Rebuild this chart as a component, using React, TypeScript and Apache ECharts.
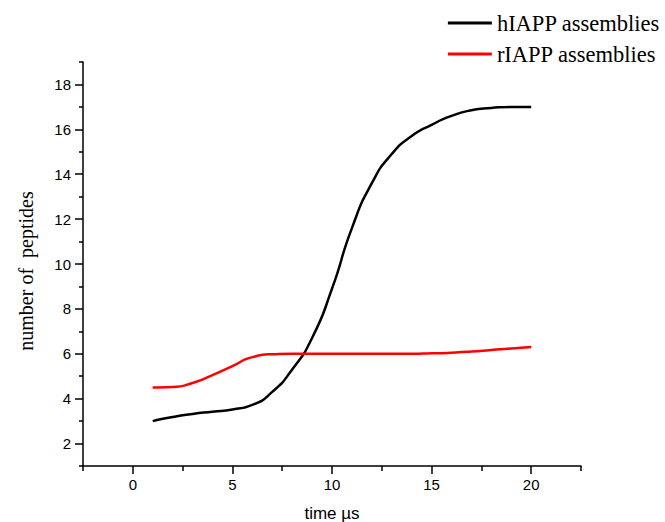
import React, { useEffect, useRef } from "react";
import * as echarts from "echarts";

const timeValues = [1, 2, 3, 4, 5, 6, 7, 8, 9, 10, 11, 12, 13, 14, 15, 16, 17, 18, 19, 20];
const hIAPP = [3.0, 3.18, 3.32, 3.42, 3.52, 3.72, 4.3, 5.3, 6.7, 8.9, 11.6, 13.6, 14.9, 15.7, 16.2, 16.6, 16.85, 16.95, 17.0, 17.0];
const rIAPP = [4.5, 4.52, 4.7, 5.05, 5.45, 5.85, 5.98, 6.0, 6.0, 6.0, 6.0, 6.0, 6.0, 6.0, 6.02, 6.05, 6.1, 6.17, 6.24, 6.3];
const xMajorTicks = [0, 5, 10, 15, 20];
const xMinorTicks = [-2.5, 2.5, 7.5, 12.5, 17.5, 22.5];
const yMajorTicks = [2, 4, 6, 8, 10, 12, 14, 16, 18];
const yMinorTicks = [1, 3, 5, 7, 9, 11, 13, 15, 17, 19];
const seriesNames = ["hIAPP assemblies", "rIAPP assemblies"];

export default function App() {
  const ref = useRef<HTMLDivElement>(null);
  useEffect(() => {
    document.body.style.margin = "0";
    if (!ref.current) return;
    const chart = echarts.init(ref.current, undefined, { renderer: "svg" });
    const axisLine = { show: true, onZero: false, lineStyle: { color: "#000", width: 1.5 } };
    chart.setOption({
      animation: false,
      backgroundColor: "#fff",
      grid: { left: 83, right: 84, top: 62, bottom: 56, outerBoundsMode: "none", containLabel: false },
      legend: {
        orient: "vertical",
        right: 5,
        top: 11,
        padding: 0,
        itemWidth: 44,
        itemHeight: 3,
        itemGap: 7,
        icon: "rect",
        textStyle: { fontFamily: "Liberation Serif", fontSize: 22.5, color: "#000", lineHeight: 24 },
        data: seriesNames,
      },
      xAxis: [
        {
          type: "value",
          min: -2.5,
          max: 22.5,
          position: "bottom",
          axisLine,
          splitLine: { show: false },
          axisTick: { show: true, inside: false, length: 8, customValues: xMajorTicks, lineStyle: { color: "#000", width: 1.5 } },
          axisLabel: { customValues: xMajorTicks, margin: 11, fontFamily: "Liberation Sans", fontSize: 15, color: "#000" },
          name: "time \u00b5s",
          nameLocation: "middle",
          nameGap: 40,
          nameTextStyle: { fontFamily: "Liberation Sans", fontSize: 17, lineHeight: 15, color: "#000" },
        },
        {
          type: "value",
          min: -2.5,
          max: 22.5,
          position: "bottom",
          offset: 0,
          axisLine: { show: false, onZero: false },
          splitLine: { show: false },
          axisTick: { show: true, length: 5, customValues: xMinorTicks, lineStyle: { color: "#000", width: 1.5 } },
          axisLabel: { show: false },
        },
      ],
      yAxis: [
        {
          type: "value",
          min: 1,
          max: 19,
          position: "left",
          axisLine,
          splitLine: { show: false },
          axisTick: { show: true, length: 8, customValues: yMajorTicks, lineStyle: { color: "#000", width: 1.5 } },
          axisLabel: { customValues: yMajorTicks, margin: 12, fontFamily: "Liberation Sans", fontSize: 15, color: "#000" },
        },
        {
          type: "value",
          min: 1,
          max: 19,
          position: "left",
          offset: 0,
          axisLine: { show: false, onZero: false },
          splitLine: { show: false },
          axisTick: { show: true, length: 4, customValues: yMinorTicks, lineStyle: { color: "#000", width: 1.5 } },
          axisLabel: { show: false },
        },
      ],
      graphic: [
        {
          type: "text",
          x: 26,
          y: 271,
          rotation: Math.PI / 2,
          style: {
            text: "number of  peptides",
            fontFamily: "Liberation Serif",
            fontSize: 20,
            fill: "#000",
            align: "center",
            verticalAlign: "middle",
          },
        },
      ],
      series: [
        {
          name: seriesNames[0],
          type: "line",
          smooth: 0.6,
          symbol: "none",
          xAxisIndex: 0,
          yAxisIndex: 0,
          data: timeValues.map((t, i) => [t, hIAPP[i]]),
          lineStyle: { color: "#000", width: 2.5 },
          itemStyle: { color: "#000" },
        },
        {
          name: seriesNames[1],
          type: "line",
          smooth: 0.6,
          symbol: "none",
          xAxisIndex: 0,
          yAxisIndex: 0,
          data: timeValues.map((t, i) => [t, rIAPP[i]]),
          lineStyle: { color: "#ff0000", width: 2.5 },
          itemStyle: { color: "#ff0000" },
        },
      ],
    });
    return () => chart.dispose();
  }, []);
  return <div ref={ref} style={{ width: 665, height: 522 }} />;
}
